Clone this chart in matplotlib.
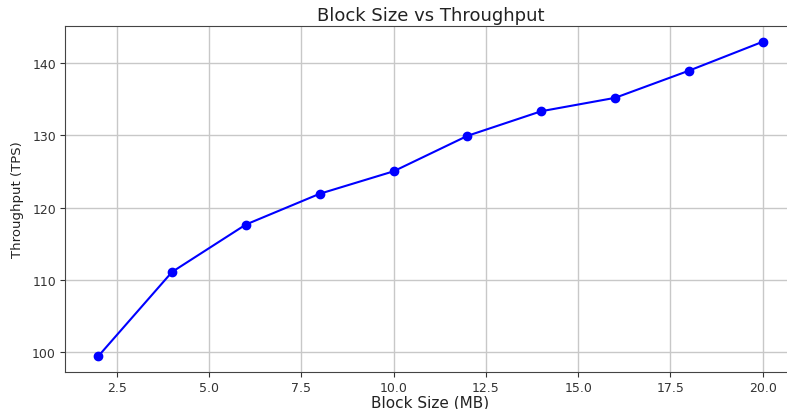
import matplotlib
matplotlib.use("Agg")
import matplotlib.pyplot as plt

block_sizes = [2, 4, 6, 8, 10, 12, 14, 16, 18, 20]
throughput = [99.45, 111.1, 117.65, 121.9, 125.0, 129.9, 133.3, 135.15, 138.9, 142.9]

title = "Block Size vs Throughput"
xlabel = "Block Size (MB)"
ylabel = "Throughput (TPS)"

fig = plt.figure(figsize=(7.87, 4.10), dpi=100)
ax = fig.add_axes([65/787, 1 - 373/410, 731/787, 346/410])
ax.plot(block_sizes, throughput, marker="o", color="blue", linewidth=1.5, markersize=6)
ax.set_title(title, fontsize=13, pad=4, color="#222222")
ax.set_xlabel(xlabel, fontsize=11, labelpad=0, color="#222222")
ax.set_ylabel(ylabel, fontsize=9.5, labelpad=6, color="#222222")
ax.tick_params(labelsize=9, colors="#333333", pad=3)
ax.spines["right"].set_visible(False)
for s in ax.spines.values():
    s.set_color("#444444")
ax.grid(True, color="#c8c8c8", linewidth=1.0)
fig.savefig("out.png", dpi=100)
